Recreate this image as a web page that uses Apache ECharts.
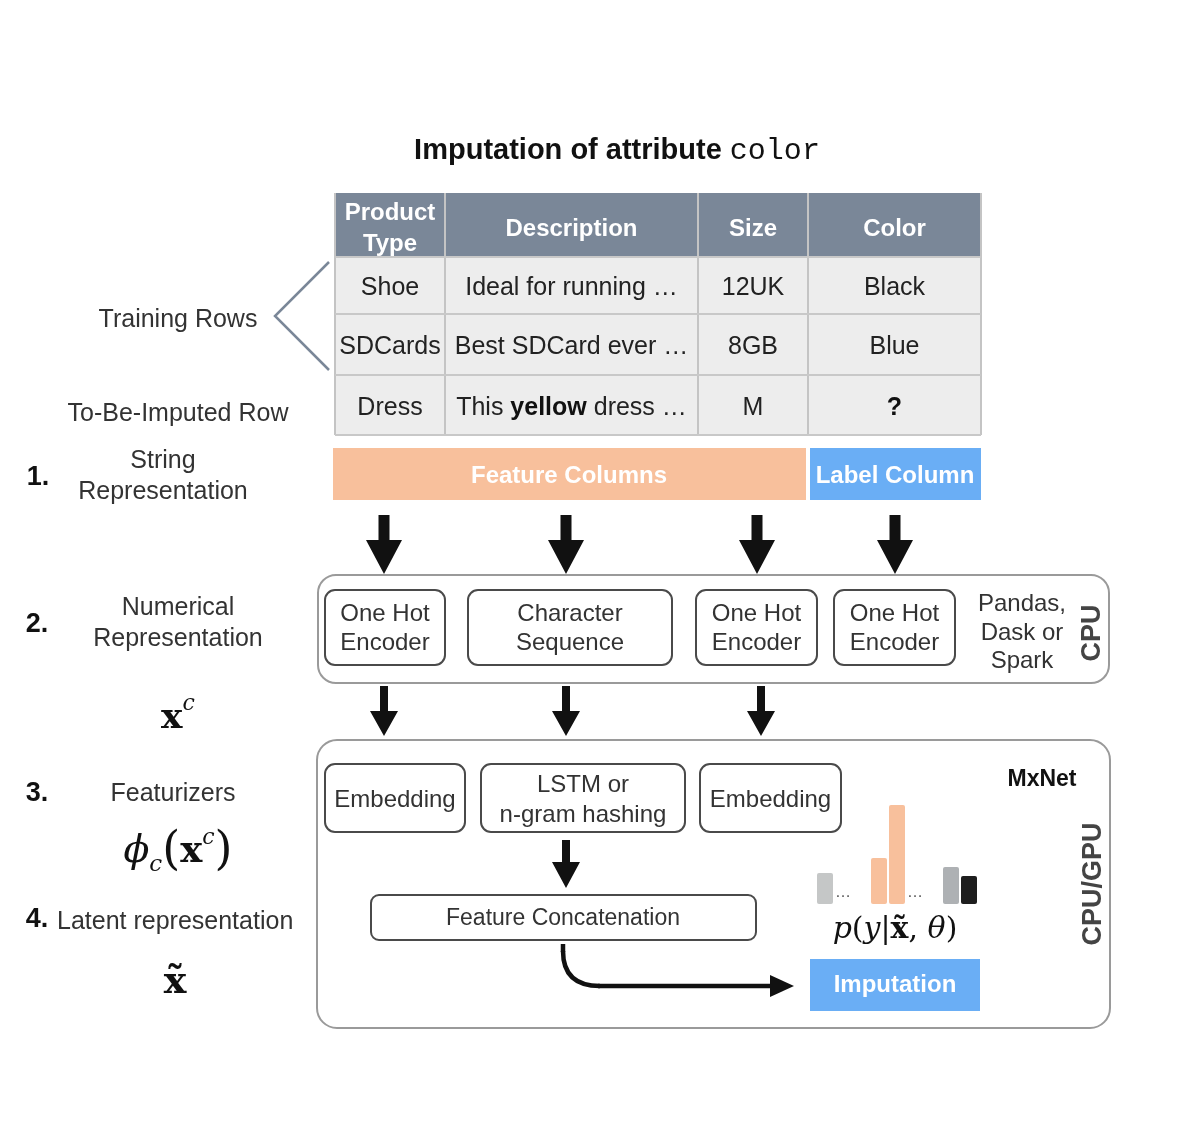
<!DOCTYPE html>
<html><head><meta charset="utf-8">
<script src="https://cdn.jsdelivr.net/npm/echarts@6/dist/echarts.min.js"></script>
<style>html,body{margin:0;padding:0;background:#fff}#c{width:1186px;height:1128px}</style>
</head><body><div id="c"></div>
<script>
// ---- data ----
const titleText = 'Imputation of attribute ';
const titleAttr = 'color';
const tableHeaders = ['Product\nType', 'Description', 'Size', 'Color'];
const tableRows = [
  ['Shoe', 'Ideal for running …', '12UK', 'Black'],
  ['SDCards', 'Best SDCard ever …', '8GB', 'Blue'],
  ['Dress', 'This {b|yellow} dress …', 'M', '{b|?}']
];
const columnGroups = ['Feature Columns', 'Label Column'];
const encoders = ['One Hot\nEncoder', 'Character\nSequence', 'One Hot\nEncoder', 'One Hot\nEncoder'];
const featurizers = ['Embedding', 'LSTM or\nn-gram hashing', 'Embedding'];
const probClasses = ['c1', 'gapA', 'gapB', 'c2', 'c3', 'gapC', 'gapD', 'c4', 'c5'];
const probValues = [31, null, null, 46, 99, null, null, 37, 28];
const probColors = ['#c5c7c7', null, null, '#f8c09c', '#f8c09c', null, null, '#aeb1b4', '#1e1e1e'];
const dotLabels = { gapA: '…', gapC: '…' };

// ---- layout / style ----
const SANS = "'Liberation Sans', Arial, Helvetica, sans-serif";
const SERIF = "'DejaVu Serif', 'Liberation Serif', serif";
const TXT = '#333333';
const DY = 2;
const colEdges = [335, 445, 698, 808, 981];
const rowEdges = [193, 257, 314, 375, 435];

const g = [];
function text(x, y, t, o) {
  o = o || {};
  g.push({
    type: 'text', x: x, y: y + DY, rotation: o.rotation || 0, z: 10,
    style: {
      text: t, fill: o.fill || TXT,
      fontSize: o.size || 25, fontFamily: o.family || SANS,
      fontWeight: o.weight || 'normal', fontStyle: o.style || 'normal',
      align: o.align || 'center', verticalAlign: o.valign || 'middle',
      lineHeight: o.lh || 31, rich: o.rich
    }
  });
}
function rect(x, y, w, h, o) {
  g.push({
    type: 'rect', z: o.z || 1,
    shape: { x: x, y: y, width: w, height: h, r: o.r || 0 },
    style: { fill: o.fill || 'none', stroke: o.stroke || null, lineWidth: o.lw || 0 }
  });
}
function downArrow(x, y1, y2, shaftW, headW, headH) {
  const yh = y2 - headH;
  g.push({
    type: 'polygon', z: 5,
    shape: { points: [[x - shaftW / 2, y1], [x + shaftW / 2, y1], [x + shaftW / 2, yh], [x + headW / 2, yh], [x, y2], [x - headW / 2, yh], [x - shaftW / 2, yh]] },
    style: { fill: '#111' }
  });
}

// title
text(617, 149, titleText + '{m|' + titleAttr + '}', {
  size: 29, weight: 'bold', fill: '#111',
  rich: { m: { fontFamily: "'Liberation Mono', 'DejaVu Sans Mono', monospace", fontSize: 30, fill: '#111', fontWeight: 'normal' } }
});

// table
rect(colEdges[0], rowEdges[0], colEdges[4] - colEdges[0], rowEdges[1] - rowEdges[0], { fill: '#7a8798' });
rect(colEdges[0], rowEdges[1], colEdges[4] - colEdges[0], rowEdges[4] - rowEdges[1], { fill: '#ededed' });
for (let i = 0; i < colEdges.length; i++) {
  g.push({ type: 'line', z: 3, shape: { x1: colEdges[i], y1: rowEdges[0], x2: colEdges[i], y2: rowEdges[4] }, style: { stroke: '#c4c4c4', lineWidth: 2 } });
}
for (let j = 1; j < rowEdges.length; j++) {
  g.push({ type: 'line', z: 3, shape: { x1: colEdges[0], y1: rowEdges[j], x2: colEdges[4], y2: rowEdges[j] }, style: { stroke: '#c8c8c8', lineWidth: 2 } });
}
tableHeaders.forEach(function (h, i) {
  text((colEdges[i] + colEdges[i + 1]) / 2, (rowEdges[0] + rowEdges[1]) / 2 + 2, h, { fill: '#ffffff', weight: 'bold', size: 24, lh: 31 });
});
tableRows.forEach(function (row, j) {
  row.forEach(function (cell, i) {
    text((colEdges[i] + colEdges[i + 1]) / 2, (rowEdges[j + 1] + rowEdges[j + 2]) / 2 + 1, cell, {
      fill: '#222', size: 25,
      rich: { b: { fontWeight: 'bold', fontSize: 25, fill: '#111', fontFamily: SANS } }
    });
  });
});
// training rows bracket
g.push({ type: 'polyline', z: 3, shape: { points: [[329, 262], [275, 316], [329, 370]] }, style: { stroke: '#7a8798', lineWidth: 2.5, fill: 'none' } });

// feature / label column bars
rect(333, 448, 473, 52, { fill: '#f8c09c' });
rect(810, 448, 171, 52, { fill: '#6aaef5' });
text(569, 474, columnGroups[0], { fill: '#ffffff', weight: 'bold', size: 24 });
text(895, 474, columnGroups[1], { fill: '#ffffff', weight: 'bold', size: 24 });

// left labels
text(178, 318, 'Training Rows');
text(178, 412, 'To-Be-Imputed Row');
text(38, 476, '1.', { weight: 'bold', fill: '#111', size: 27 });
text(163, 475, 'String\nRepresentation', { lh: 31 });
text(37, 623, '2.', { weight: 'bold', fill: '#111', size: 27 });
text(178, 622, 'Numerical\nRepresentation', { lh: 31 });
text(37, 792, '3.', { weight: 'bold', fill: '#111', size: 27 });
text(173, 792, 'Featurizers');
text(37, 918, '4.', { weight: 'bold', fill: '#111', size: 27 });
text(57, 920, 'Latent representation', { align: 'left' });

// math labels
text(178, 713, '{x|x}{s|c}', { family: SERIF, rich: {
  x: { fontFamily: SERIF, fontWeight: 'bold', fontSize: 36, fill: '#111', lineHeight: 44, verticalAlign: 'bottom' },
  s: { fontFamily: SERIF, fontStyle: 'italic', fontSize: 22, fill: '#111', lineHeight: 44, verticalAlign: 'top' } } });
text(178, 850, '{f|ϕ}{sub|c}{p|(}{x|x}{s|c}{p|)}', { family: SERIF, rich: {
  f: { fontFamily: SERIF, fontStyle: 'italic', fontSize: 38, fill: '#111', lineHeight: 50, verticalAlign: 'middle' },
  sub: { fontFamily: SERIF, fontStyle: 'italic', fontSize: 23, fill: '#111', lineHeight: 46, verticalAlign: 'bottom' },
  p: { fontFamily: SERIF, fontSize: 46, fill: '#111', lineHeight: 50, verticalAlign: 'middle' },
  x: { fontFamily: SERIF, fontWeight: 'bold', fontSize: 37, fill: '#111', lineHeight: 50, verticalAlign: 'middle' },
  s: { fontFamily: SERIF, fontStyle: 'italic', fontSize: 22, fill: '#111', lineHeight: 50, verticalAlign: 'top' } } });
text(175, 981, 'x\u0303', { family: SERIF, weight: 'bold', size: 38, fill: '#111', lh: 44 });

// arrows row 1
[384, 566, 757, 895].forEach(function (x) { downArrow(x, 515, 574, 11, 36, 34); });
// CPU box
rect(318, 575, 791, 108, { stroke: '#9a9a9a', lw: 2, r: 18, fill: '#fff' });
const encX = [[325, 445], [468, 672], [696, 817], [834, 955]];
encoders.forEach(function (e, i) {
  rect(encX[i][0], 590, encX[i][1] - encX[i][0], 75, { stroke: '#4a4a4a', lw: 2, r: 10, z: 4, fill: '#fff' });
  text((encX[i][0] + encX[i][1]) / 2, 627, e, { lh: 29, size: 24 });
});
text(1022, 631, 'Pandas,\nDask or\nSpark', { lh: 28.5, size: 24 });
text(1093, 631, 'CPU', { weight: 'bold', size: 27, fill: '#444', rotation: Math.PI / 2 });

// arrows row 2
[384, 566, 761].forEach(function (x) { downArrow(x, 686, 736, 8, 28, 25); });

// GPU box
rect(317, 740, 793, 288, { stroke: '#9a9a9a', lw: 2, r: 20, fill: '#fff' });
const featX = [[325, 465], [481, 685], [700, 841]];
featurizers.forEach(function (f, i) {
  rect(featX[i][0], 764, featX[i][1] - featX[i][0], 68, { stroke: '#4a4a4a', lw: 2, r: 10, z: 4, fill: '#fff' });
  text((featX[i][0] + featX[i][1]) / 2, 798, f, { lh: 30, size: 24 });
});
text(1042, 778, 'MxNet', { weight: 'bold', size: 23, fill: '#111' });
text(1094, 882, 'CPU/GPU', { weight: 'bold', size: 27, fill: '#444', rotation: Math.PI / 2 });
downArrow(566, 840, 888, 8, 28, 26);
rect(371, 895, 385, 45, { stroke: '#4a4a4a', lw: 2, r: 8, z: 4, fill: '#fff' });
text(563, 917, 'Feature Concatenation', { size: 23 });
// curved arrow
g.push({ type: 'line', z: 5, shape: { x1: 563, y1: 944, x2: 563, y2: 952 }, style: { stroke: '#111', lineWidth: 4.5 } });
g.push({ type: 'bezierCurve', z: 5, shape: { x1: 563, y1: 951, cpx1: 563, cpy1: 986, x2: 600, y2: 986 }, style: { stroke: '#111', lineWidth: 4.5, fill: 'none' } });
g.push({ type: 'line', z: 5, shape: { x1: 598, y1: 986, x2: 776, y2: 986 }, style: { stroke: '#111', lineWidth: 4.5 } });
g.push({ type: 'polygon', z: 5, shape: { points: [[770, 975], [794, 986], [770, 997]] }, style: { fill: '#111' } });
rect(810, 959, 170, 52, { fill: '#6aaef5', z: 4 });
text(895, 983, 'Imputation', { fill: '#ffffff', weight: 'bold', size: 24 });
text(895, 928, '{i|p}{n|(}{i|y}{n||}{b|x\u0303}{n|, }{i|θ}{n|)}', { family: SERIF, rich: {
  i: { fontFamily: SERIF, fontStyle: 'italic', fontSize: 30, fill: '#111' },
  n: { fontFamily: SERIF, fontSize: 30, fill: '#111' },
  b: { fontFamily: SERIF, fontWeight: 'bold', fontSize: 30, fill: '#111' } } });

const chart = echarts.init(document.getElementById('c'));
chart.setOption({
  animation: false,
  backgroundColor: '#ffffff',
  grid: { left: 816, top: 804, width: 162, height: 100 },
  xAxis: {
    type: 'category', data: probClasses, z: 50,
    axisLine: { show: false }, axisTick: { show: false },
    axisLabel: { interval: 0, margin: -19, fontSize: 16, color: '#555', fontFamily: SANS,
      formatter: function (v) { return dotLabels[v] || ''; } }
  },
  yAxis: { type: 'value', min: 0, max: 100, show: false },
  series: [{
    type: 'bar', barWidth: 16, silent: true,
    data: probValues.map(function (v, i) { return { value: v, itemStyle: { color: probColors[i] || '#ccc', borderRadius: 2 } }; }),
    z: 20
  }],
  graphic: { elements: g }
});
</script></body></html>
